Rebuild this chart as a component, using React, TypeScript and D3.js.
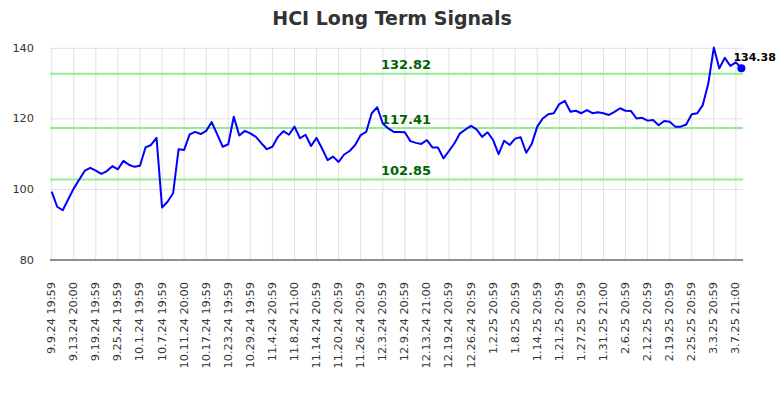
import React from "react";
import * as d3 from "d3";

const values: number[] = [
  99.4, 95.1, 94.1, 97.2, 100.3, 102.8, 105.3, 106.1, 105.3, 104.4,
  105.2, 106.6, 105.7, 108.1, 107.0, 106.4, 106.7, 111.9, 112.6, 114.6,
  94.9, 96.5, 98.9, 111.4, 111.2, 115.6, 116.3, 115.7, 116.6, 119.1,
  115.6, 112.1, 112.8, 120.6, 115.3, 116.6, 115.9, 114.9, 113.1, 111.4,
  112.1, 114.9, 116.5, 115.5, 117.8, 114.5, 115.5, 112.3, 114.6, 111.6,
  108.3, 109.3, 107.8, 109.9, 110.9, 112.6, 115.4, 116.3, 121.6, 123.3,
  118.7, 117.3, 116.3, 116.3, 116.2, 113.7, 113.2, 112.9, 114.0, 111.9,
  111.9, 108.8, 110.9, 113.1, 115.9, 117.0, 118.0, 117.0, 114.9, 116.2,
  114.0, 110.0, 113.8, 112.6, 114.4, 114.8, 110.4, 112.9, 117.8, 120.1,
  121.3, 121.6, 124.2, 125.1, 122.0, 122.3, 121.6, 122.5, 121.6, 121.9,
  121.6, 121.1, 122.0, 123.0, 122.3, 122.2, 120.1, 120.3, 119.5, 119.7,
  118.2, 119.4, 119.2, 117.8, 117.8, 118.4, 121.3, 121.6, 123.9, 130.0,
  140.2, 134.3, 137.3, 135.0, 136.0, 134.38,
];

const tickLabels: string[] = [
  "9.9.24 19:59", "9.13.24 20:00", "9.19.24 19:59", "9.25.24 19:59",
  "10.1.24 19:59", "10.7.24 19:59", "10.11.24 20:00", "10.17.24 19:59",
  "10.23.24 19:59", "10.29.24 19:59", "11.4.24 20:59", "11.8.24 21:00",
  "11.14.24 20:59", "11.20.24 20:59", "11.26.24 20:59", "12.3.24 20:59",
  "12.9.24 20:59", "12.13.24 21:00", "12.19.24 20:59", "12.26.24 20:59",
  "1.2.25 20:59", "1.8.25 20:59", "1.14.25 20:59", "1.21.25 20:59",
  "1.27.25 20:59", "1.31.25 21:00", "2.6.25 20:59", "2.12.25 20:59",
  "2.19.25 20:59", "2.25.25 20:59", "3.3.25 20:59", "3.7.25 21:00",
];
const tickStep = 4;

const yTicks: number[] = [80, 100, 120, 140];
const signalLevels: number[] = [132.82, 117.41, 102.85];

const W = 784;
const H = 400;
const plotLeft = 50;
const plotRight = 743;
const FONT = "DejaVu Sans, sans-serif";

export default function App() {
  const x = d3.scaleLinear().domain([0, values.length - 1]).range([51.7, 741.4]);
  const y = d3.scaleLinear().domain([80, 140]).range([260, 48.3]);
  const line = d3
    .line<number>()
    .x((_, i) => x(i))
    .y((d) => y(d));
  const lastIdx = values.length - 1;
  const lastVal = values[lastIdx];

  return (
    <svg width={W} height={H} style={{ position: "absolute", left: 0, top: 0, background: "#fff" }}>
      <rect x={0} y={0} width={W} height={H} fill="#fff" />
      <text
        x={392}
        y={25}
        textAnchor="middle"
        fontFamily={FONT}
        fontWeight="bold"
        fontSize={19}
        fill="#333"
      >
        HCI Long Term Signals
      </text>

      {/* grid */}
      {tickLabels.map((_, k) => (
        <line
          key={"vg" + k}
          x1={x(k * tickStep)}
          x2={x(k * tickStep)}
          y1={y(140)}
          y2={y(80)}
          stroke="#e0e0e0"
          strokeWidth={1}
        />
      ))}
      {yTicks.map((t) => (
        <line
          key={"hg" + t}
          x1={plotLeft}
          x2={plotRight}
          y1={y(t)}
          y2={y(t)}
          stroke="#e0e0e0"
          strokeWidth={1}
        />
      ))}

      {/* signal levels */}
      {signalLevels.map((v) => (
        <g key={"sl" + v}>
          <line
            x1={plotLeft}
            x2={plotRight}
            y1={y(v)}
            y2={y(v)}
            stroke="#90ee90"
            strokeWidth={2}
          />
          <text
            x={406}
            y={y(v) - 4.5}
            textAnchor="middle"
            fontFamily={FONT}
            fontWeight="bold"
            fontSize={13}
            fill="#006400"
          >
            {v.toFixed(2)}
          </text>
        </g>
      ))}

      {/* bottom axis */}
      <line x1={plotLeft} x2={plotRight} y1={y(80)} y2={y(80)} stroke="#333" strokeWidth={1.2} />

      {/* y labels */}
      {yTicks.map((t) => (
        <text
          key={"yl" + t}
          x={34}
          y={y(t)}
          textAnchor="end"
          dominantBaseline="central"
          fontFamily={FONT}
          fontSize={11.3}
          fill="#333"
        >
          {t}
        </text>
      ))}

      {/* x labels */}
      {tickLabels.map((lab, k) => {
        const px = x(k * tickStep);
        return (
          <text
            key={"xl" + k}
            transform={`translate(${px},282) rotate(-90)`}
            textAnchor="end"
            dominantBaseline="central"
            fontFamily={FONT}
            fontSize={11.3}
            fill="#333"
          >
            {lab}
          </text>
        );
      })}

      {/* data line */}
      <path d={line(values) || ""} fill="none" stroke="#0000ff" strokeWidth={2} strokeLinejoin="round" />
      <circle cx={x(lastIdx)} cy={y(lastVal)} r={4} fill="#0000ff" />
      <text
        x={x(lastIdx) - 8}
        y={y(lastVal) - 7}
        fontFamily={FONT}
        fontWeight="bold"
        fontSize={11}
        fill="#000"
      >
        {lastVal.toFixed(2)}
      </text>
    </svg>
  );
}
